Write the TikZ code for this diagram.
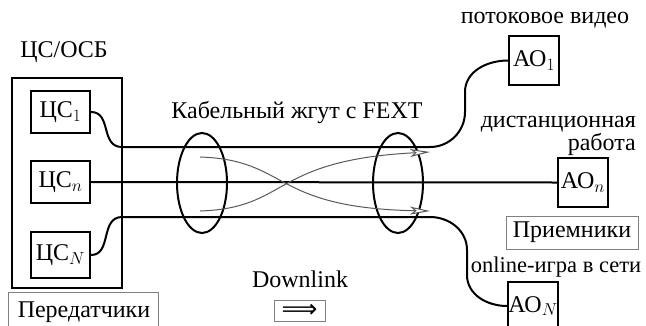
\documentclass[tikz,border=0pt]{standalone}
\usepackage{fontspec}
\setmainfont{Liberation Serif}
\newfontfamily\symfont{DejaVu Sans}
\usetikzlibrary{arrows.meta}
\begin{document}
\begin{tikzpicture}[x=1pt,y=-1pt,
  every node/.style={font=\fontsize{24}{27}\selectfont, inner sep=0pt},
  blk/.style={draw, line width=2pt, minimum width=#1, align=center},
  lbl/.style={draw=gray, line width=0.8pt, inner xsep=5pt, inner ysep=4pt},
  wire/.style={line width=2pt},
  fext/.style={draw=gray!70!black, line width=1pt, -{Stealth[fill=white, length=20pt, width=8pt, inset=5pt]}},
  ring/.style={line width=2pt}]
\useasboundingbox (0,0) rectangle (646,325);
% transmitters
\node (title) at (64,52) {ЦС/ОСБ};
\node[blk=110pt, minimum height=210pt] (outer) at (67,183) {};
\node[blk=59pt, minimum height=42pt] (cs1) at (60.5,112) {ЦС$_1$};
\node[blk=59pt, minimum height=42pt] (csn) at (60.5,182) {ЦС$_n$};
\node[blk=59pt, minimum height=46pt] (csN) at (60.5,255) {ЦС$_N$};
\node[lbl, minimum width=150pt, minimum height=36pt, anchor=north west] (tx) at (8,292) {};
\node[anchor=base] (txt) at (84,317) {Передатчики};
% receivers
\node (vid) at (545,20) {потоковое видео};
\node[anchor=east] (dist) at (636,124) {дистанционная};
\node[anchor=east] (rab) at (636,144) {работа};
\node[blk=50pt, minimum height=49pt] (ao1) at (534,60.5) {АО$_1$};
\node[blk=50pt, minimum height=49pt] (aon) at (583,182.5) {АО$_n$};
\node[lbl, minimum width=132pt, minimum height=33pt] (rx) at (572,232.5) {Приемники};
\node[font=\fontsize{22.5}{26}\selectfont] (game) at (556,267) {online-игра в сети};
\node[blk=50pt, minimum height=48pt] (aoN) at (533,306) {АО$_N$};
% cable
\node (cab) at (297,112) {Кабельный жгут с FEXT};
\coordinate (a1) at (122,147);
\coordinate (b1) at (430,147);
\coordinate (a3) at (122,217);
\coordinate (b3) at (430,217);
\draw[wire] (cs1.east) .. controls (112,112) and (100,147) .. (a1) -- (b1)
  to[out=0,in=-90] (465,112) -- (465,92) to[out=90,in=180] (ao1.west);
\draw[wire] (csn.east) -- (aon.west);
\draw[wire] (csN.east) .. controls (112,255) and (100,217) .. (a3) -- (b3)
  to[out=0,in=90] (467,250) -- (467,275) to[out=-90,in=180] (aoN.west);
\draw[ring] (202,183) ellipse [x radius=25, y radius=50];
\draw[ring] (398,183) ellipse [x radius=25, y radius=50];
\coordinate (f1) at (200,157);
\coordinate (f2) at (200,211);
\coordinate (g1) at (430,152);
\coordinate (g2) at (430,211);
\draw[fext] (f1) .. controls (290,160) and (270,208) .. (g2);
\draw[fext] (f2) .. controls (290,208) and (270,160) .. (g1);
% downlink
\node (dl) at (300,279) {Downlink};
\node[draw=gray, line width=0.8pt, minimum width=51pt, minimum height=21pt, inner sep=0pt, font=\symfont\fontsize{25}{22}\selectfont] (dla) at (299.5,311) {⟹};
\end{tikzpicture}
\end{document}
